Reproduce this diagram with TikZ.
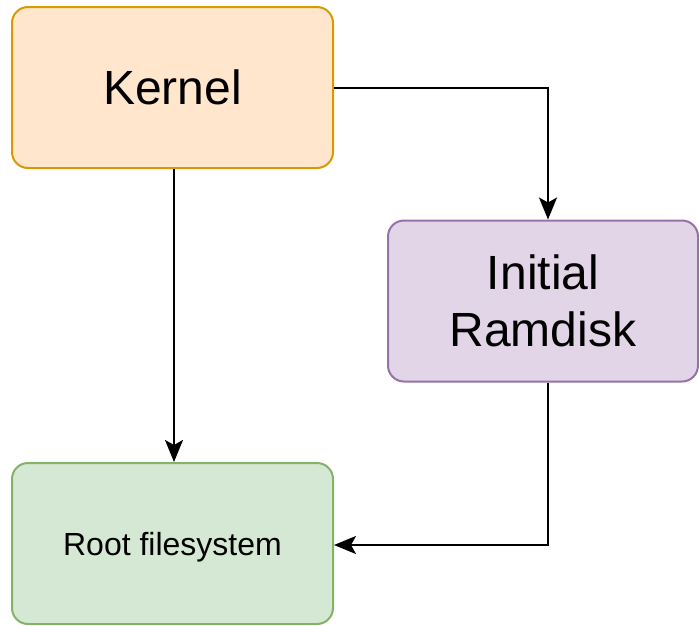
\documentclass[tikz,border=0pt]{standalone}
\usepackage{fontspec}
\setmainfont{Liberation Sans}
\usetikzlibrary{arrows.meta}
\begin{document}
\begin{tikzpicture}[x=1pt,y=-1pt,
  box/.style={draw, line width=2pt, rounded corners=16pt, minimum width=321pt, minimum height=161pt, inner sep=0pt, align=center, text=black},
  conn/.style={draw=black, line width=2pt, -{Stealth[length=22pt,width=18pt,inset=5pt]}}]
\useasboundingbox (0,0) rectangle (699,625);
\definecolor{korange}{HTML}{FFE6CC}\definecolor{korangeD}{HTML}{D79B00}
\definecolor{kpurple}{HTML}{E1D5E7}\definecolor{kpurpleD}{HTML}{9673A6}
\definecolor{kgreen}{HTML}{D5E8D4}\definecolor{kgreenD}{HTML}{82B366}
\node[box, fill=korange, draw=korangeD, font=\fontsize{48}{57}\selectfont] (kernel) at (172.5,87.5) {Kernel};
\node[box, fill=kpurple, draw=kpurpleD, minimum width=310pt, font=\fontsize{48}{57}\selectfont] (ramdisk) at (543,301) {Initial\\Ramdisk};
\node[box, fill=kgreen, draw=kgreenD, text depth=0pt, font=\fontsize{32}{38}\selectfont] (root) at (172.5,543.5) {Root filesystem};
\coordinate (c1) at (548,87.5);
\coordinate (c2) at (548,545);
\draw[conn] (kernel.east) -- (c1) -- (c1 |- ramdisk.north);
\draw[conn] (kernel.south -| 174,0) -- (174,0 |- root.north);
\draw[conn] (c1 |- ramdisk.south) -- (c2) -- (c2 -| root.east);
\end{tikzpicture}
\end{document}
